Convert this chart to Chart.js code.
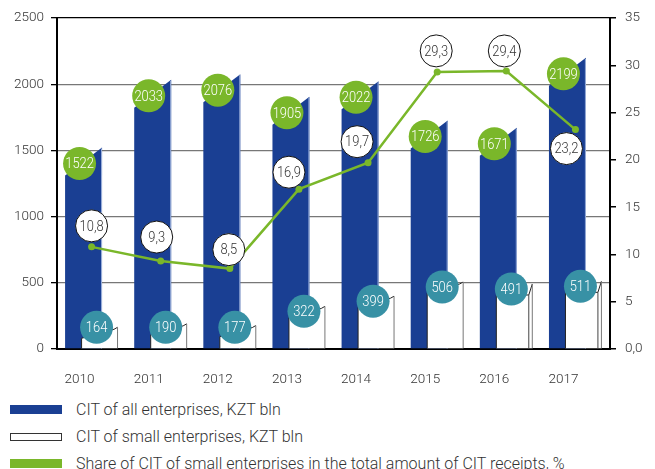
<!DOCTYPE html>
<html>
<head>
<meta charset="utf-8">
<script src="https://cdn.jsdelivr.net/npm/chart.js@4.4.1/dist/chart.umd.min.js"></script>
<style>
    body { margin: 0; background: #fff; font-family: Roboto, sans-serif; }
    #wrap { position: relative; width: 655px; height: 469px; overflow: hidden; }
    #chartBox { position: absolute; left: 0; top: 0; width: 655px; height: 392px; }
    #legend { position: absolute; left: 10px; top: 396px; }
    .item { display: flex; align-items: center; height: 27px; font-weight: 300; font-size: 16px; color: #333; }
    .sw { width: 52px; height: 9px; margin-right: 14px; box-sizing: border-box; }
</style>
</head>
<body>
<div id="wrap">
    <div id="chartBox"><canvas id="chart"></canvas></div>
    <div id="legend">
        <div class="item"><span class="sw" style="background:#1a3f93"></span>CIT of all enterprises, KZT bln</div>
        <div class="item"><span class="sw" style="background:#fff;border:1px solid #333;height:8px"></span>CIT of small enterprises, KZT bln</div>
        <div class="item"><span class="sw" style="background:#7ab72a"></span>Share of CIT of small enterprises in the total amount of CIT receipts, %</div>
    </div>
</div>
<script>
// chart data
var years = ['2010', '2011', '2012', '2013', '2014', '2015', '2016', '2017'];
var citAll = [1522, 2033, 2076, 1905, 2022, 1726, 1671, 2199];
var citSmall = [164, 190, 177, 322, 399, 506, 491, 511];
var sharePct = [10.8, 9.3, 8.5, 16.9, 19.7, 29.3, 29.4, 23.2];

var BLUE = '#1a3f93';
var GREEN = '#7ab72a';
var TEAL = '#3891a5';

// where each % bubble sits relative to its point (style only)
var pctShift = [[0, -21], [-4, -24], [-1, -19], [-10, -17], [-11, -21], [-1, -21], [-2, -20], [-9, 19]];

function fmt(v) {
    return String(v).replace('.', ',');
}

// draws the pseudo-3D bars ourselves, blue first then white in front
var bar3d = {
    id: 'bar3d',
    beforeDatasetsDraw: function (chart) {
        var ctx = chart.ctx;
        ctx.save();
        var blueMeta = chart.getDatasetMeta(0);
        blueMeta.data.forEach(function (el) {
            var L = el.x - el.width / 2, R = el.x + el.width / 2;
            ctx.fillStyle = BLUE;
            ctx.beginPath();
            ctx.moveTo(L, el.base);
            ctx.lineTo(L, el.y + 28);
            ctx.lineTo(R, el.y);
            ctx.lineTo(R, el.base);
            ctx.closePath();
            ctx.fill();
            ctx.strokeStyle = '#9cb0da';
            ctx.lineWidth = 1;
            ctx.beginPath();
            ctx.moveTo(R - 0.5, el.y + 1);
            ctx.lineTo(R - 0.5, el.base);
            ctx.stroke();
        });
        var whiteMeta = chart.getDatasetMeta(1);
        whiteMeta.data.forEach(function (el, i) {
            var L = el.x - el.width / 2, R = el.x + el.width / 2;
            var tilt = i <= 5 ? 9 : 0;
            ctx.fillStyle = '#fff';
            ctx.strokeStyle = '#222';
            ctx.lineWidth = 1;
            ctx.beginPath();
            ctx.moveTo(L + 0.5, el.base);
            ctx.lineTo(L + 0.5, el.y + 11);
            ctx.lineTo(R - 4, el.y + 11 - tilt);
            ctx.lineTo(R - 0.5, el.y);
            ctx.lineTo(R - 0.5, el.base);
            ctx.closePath();
            ctx.fill();
            ctx.beginPath();
            ctx.moveTo(L + 0.5, el.base);
            ctx.lineTo(L + 0.5, el.y + 11);
            ctx.lineTo(R - 4, el.y + 11 - tilt);
            ctx.lineTo(R - 0.5, el.y);
            ctx.stroke();
            ctx.strokeStyle = '#777';
            ctx.beginPath();
            ctx.moveTo(R - 0.5, el.y);
            ctx.lineTo(R - 0.5, el.base);
            ctx.stroke();
            if (tilt === 0) {
                ctx.strokeStyle = '#444';
                ctx.beginPath();
                ctx.moveTo(R - 4, el.y + 11);
                ctx.lineTo(R - 4, el.base);
                ctx.stroke();
            }
        });
        ctx.restore();
    },
    beforeDatasetDraw: function (chart, args) {
        if (args.index < 2) return false;
    }
};

function bubble(ctx, x, y, r, fill, stroke, text, color) {
    ctx.beginPath();
    ctx.arc(x, y, r, 0, Math.PI * 2);
    ctx.fillStyle = fill;
    ctx.fill();
    if (stroke) {
        ctx.strokeStyle = stroke;
        ctx.lineWidth = 1;
        ctx.stroke();
    }
    // the original uses a narrow face, so squeeze the text a bit
    ctx.save();
    ctx.translate(x, y + 1);
    ctx.scale(0.86, 1);
    ctx.fillStyle = color;
    ctx.fillText(text, 0, 0);
    ctx.restore();
}

// value bubbles on top of everything
var bubbles = {
    id: 'bubbles',
    afterDatasetsDraw: function (chart) {
        var ctx = chart.ctx;
        ctx.save();
        ctx.font = '300 15px Roboto';
        ctx.textAlign = 'center';
        ctx.textBaseline = 'middle';
        chart.getDatasetMeta(0).data.forEach(function (el, i) {
            bubble(ctx, el.x - 4, el.y + 16, 16.5, GREEN, null, String(citAll[i]), '#fff');
        });
        chart.getDatasetMeta(1).data.forEach(function (el, i) {
            bubble(ctx, el.x - 3, Math.min(el.y + 5, el.base - 21), 16.5, TEAL, null, String(citSmall[i]), '#fff');
        });
        chart.getDatasetMeta(2).data.forEach(function (el, i) {
            bubble(ctx, el.x + pctShift[i][0], el.y + pctShift[i][1], 16, '#fff', '#111', fmt(sharePct[i]), '#333');
        });
        ctx.restore();
    }
};

var tickFont = { family: 'Roboto', size: 13.5, weight: '300' };

new Chart(document.getElementById('chart'), {
    data: {
        labels: years,
        datasets: [
            {
                type: 'bar',
                label: 'CIT of all enterprises, KZT bln',
                data: citAll,
                backgroundColor: BLUE,
                categoryPercentage: 0.463,
                barPercentage: 2.31,
                yAxisID: 'y',
                order: 1
            },
            {
                type: 'bar',
                label: 'CIT of small enterprises, KZT bln',
                data: citSmall,
                backgroundColor: '#fff',
                categoryPercentage: 0.463,
                barPercentage: 2.31,
                yAxisID: 'y',
                order: 1
            },
            {
                type: 'line',
                label: 'Share of CIT of small enterprises in the total amount of CIT receipts, %',
                data: sharePct,
                borderColor: GREEN,
                backgroundColor: GREEN,
                borderWidth: 2.5,
                pointRadius: 3.5,
                pointBackgroundColor: GREEN,
                pointBorderWidth: 0,
                tension: 0,
                yAxisID: 'y2',
                order: 0
            }
        ]
    },
    options: {
        responsive: true,
        maintainAspectRatio: false,
        animation: false,
        layout: { padding: { top: 18, left: 0, right: 0, bottom: 0 } },
        plugins: {
            legend: { display: false },
            tooltip: { enabled: false }
        },
        scales: {
            x: {
                offset: true,
                grid: { display: true, drawOnChartArea: false, drawTicks: false },
                border: { color: '#000', width: 2 },
                ticks: { font: tickFont, color: '#333', padding: 23, labelOffset: -12, maxRotation: 0 },
                afterFit: function (scale) { scale.height = 43; }
            },
            y: {
                position: 'left',
                min: 0,
                max: 2500,
                ticks: {
                    stepSize: 500, font: tickFont, color: '#333', padding: 7,
                    callback: function (v) { return String(v); }
                },
                grid: {
                    color: function (c) { return c.tick && c.tick.value === 2500 ? '#000' : '#777'; },
                    lineWidth: 1.3,
                    tickColor: '#000',
                    tickLength: 6
                },
                border: { color: '#000', width: 2 },
                afterFit: function (scale) { scale.width = 57; }
            },
            y2: {
                position: 'right',
                min: 0,
                max: 35,
                ticks: {
                    stepSize: 5, font: tickFont, color: '#333', padding: 9,
                    callback: function (v) { return v === 0 ? '0,0' : String(v); }
                },
                grid: { drawOnChartArea: false, tickColor: '#000', tickLength: 6, lineWidth: 1.5 },
                border: { color: '#000', width: 2 },
                afterFit: function (scale) { scale.width = 45; }
            }
        }
    },
    plugins: [bar3d, bubbles]
});
</script>
</body>
</html>
